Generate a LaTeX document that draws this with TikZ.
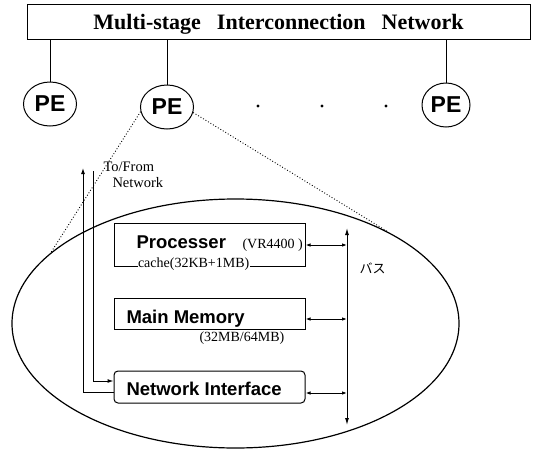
\documentclass[tikz,border=0pt]{standalone}
\usepackage{fontspec}
\setmainfont{Liberation Serif}
\setsansfont{Liberation Sans}
\newfontfamily\jpfont{Noto Sans CJK JP}
\usepackage{tikz}
\usetikzlibrary{shapes.geometric,positioning,arrows.meta}

\begin{document}
\begin{tikzpicture}[x=1pt,y=-1pt,line width=1pt,
  pe/.style={draw,ellipse,minimum width=53pt,minimum height=44pt,inner sep=0pt,font=\sffamily\bfseries\fontsize{23}{23}\selectfont},
  unit/.style={draw,minimum width=191pt,inner sep=0pt},
  uname/.style={anchor=base west,inner sep=0pt,font=\sffamily\bfseries\fontsize{18.5}{18.5}\selectfont},
  spec/.style={anchor=base west,inner sep=0pt,font=\fontsize{14}{14}\selectfont},
  biarr/.style={{Latex[length=5pt,width=3.5pt]}-{Latex[length=5pt,width=3.5pt]}},
  busarr/.style={{Latex[length=7pt,width=4pt]}-{Latex[length=7pt,width=4pt]}},
  onearr/.style={-{Latex[length=6pt,width=4pt]}}]
  \useasboundingbox (0,0) rectangle (533,450);

  \node[draw,line width=0.8pt,minimum width=503pt,minimum height=35pt,text depth=0pt,
        font=\bfseries\fontsize{22}{22}\selectfont] (net) at (278.5,21.5)
        {Multi-stage\hspace{16pt}Interconnection\hspace{16pt}Network};

  \node[pe] (pe1) at (50,104) {PE};
  \node[pe] (pe2) at (167,107) {PE};
  \node[pe,minimum width=48pt] (pe3) at (446,105) {PE};
  \draw (pe1.north) -- (pe1.north |- net.south);
  \draw (pe2.north) -- (pe2.north |- net.south);
  \draw (pe3.north) -- (pe3.north |- net.south);
  \foreach \x in {258,322,386}
    \fill (\x,106) circle (1.6pt);

  \node[draw,ellipse,minimum width=447pt,minimum height=249pt,line width=1.2pt] (inside) at (235.5,323.5) {};
  \draw[dotted,line width=0.9pt] (pe2.190) -- (inside.159);
  \draw[dotted,line width=0.9pt] (pe2.-12) -- (inside.31);

  \node[unit,minimum height=43pt] (proc) at (209.5,244.5) {};
  \node[unit,minimum height=31pt] (mem) at (209.5,313.5) {};
  \node[unit,minimum height=32pt,rounded corners=4pt] (ni) at (209.5,387) {};

  \node[uname] (proct) at (136,248) {Processer};
  \node[spec] (vr) at (242,248) {(VR4400 )};
  \node[spec,fill=white,inner sep=0.5pt] (cache) at (137,267) {cache(32KB+1MB)};
  \node[uname] (memt) at (126,323) {Main Memory};
  \node[spec] (size) at (199,341) {(32MB/64MB)};
  \node[uname] (nit) at (126,395) {Network Interface};

  \coordinate (bt) at (347,228);
  \coordinate (bb) at (347,425);
  \draw[busarr] (bt) -- (bb);
  \draw[biarr] ([yshift=-0.5pt]proc.east) coordinate (a) -- (a -| bt);
  \draw[biarr] ([yshift=-5.5pt]mem.east) coordinate (b) -- (b -| bt);
  \draw[biarr] ([yshift=-6pt]ni.east) coordinate (c) -- (c -| bt);
  \node[anchor=west,inner sep=0pt,font=\jpfont\fontsize{13}{13}\selectfont] (bus) at (359,268) {バス};

  \coordinate (out) at (83,168);
  \coordinate (in) at (93,171);
  \draw[onearr] ([yshift=-5pt]ni.west) -| (out);
  \draw[onearr] (in) |- ([yshift=6pt]ni.west);
  \node[spec,font=\fontsize{14.5}{14.5}\selectfont] (tofrom) at (103,171) {To/From};
  \node[spec,font=\fontsize{14.5}{14.5}\selectfont] (tonet) at (112,187) {Network};
\end{tikzpicture}
\end{document}
